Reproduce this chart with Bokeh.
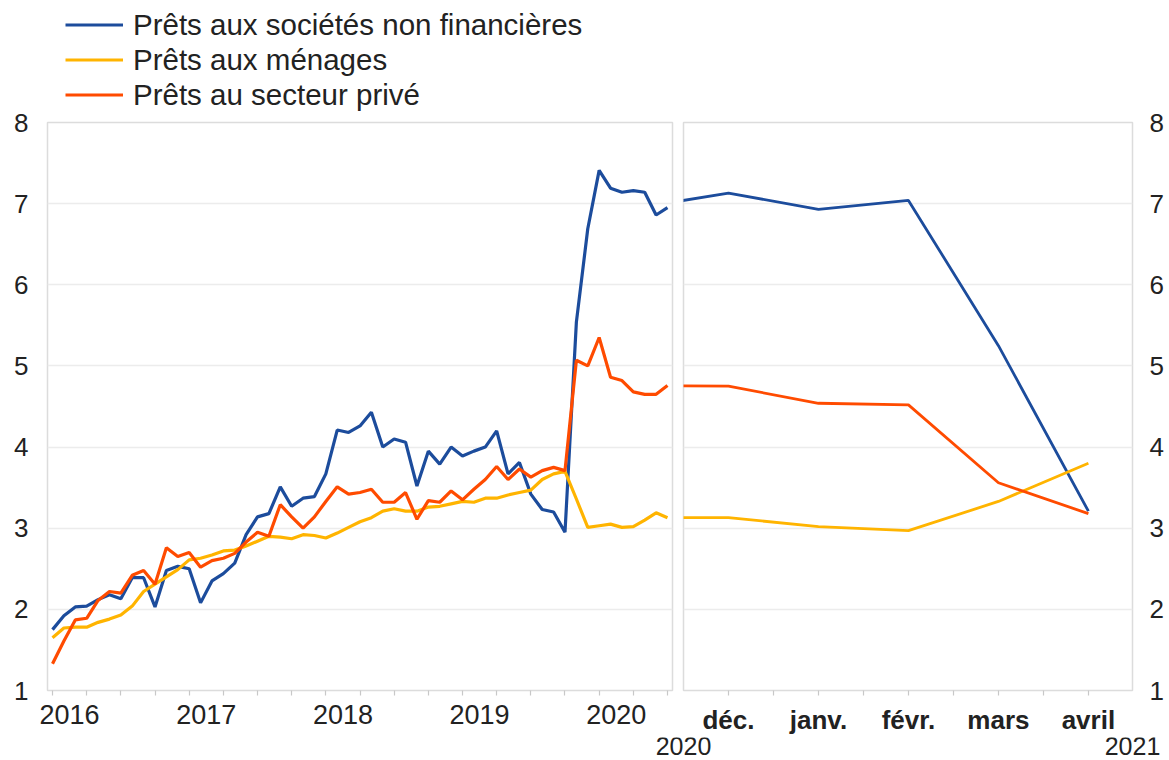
from bokeh.plotting import figure
from bokeh.models import Range1d, FixedTicker, Legend, LegendItem
from bokeh.layouts import column, row
from bokeh.embed import file_html
from bokeh.resources import INLINE
from bokeh.core.properties import value

# ---------------- data ----------------
# left panel: monthly, May 2016 .. Nov 2020
year_labels = ["2016", "2017", "2018", "2019", "2020"]
nfc_left = [1.75, 1.92, 2.03, 2.04, 2.12, 2.18, 2.13, 2.39, 2.39, 2.03,
            2.48, 2.53, 2.50, 2.08, 2.35, 2.44, 2.57, 2.92, 3.14, 3.18,
            3.51, 3.27, 3.37, 3.39, 3.67, 4.21, 4.18, 4.26, 4.43, 4.00,
            4.10, 4.06, 3.52, 3.95, 3.79, 4.00, 3.89, 3.95, 4.00, 4.20,
            3.67, 3.81, 3.42, 3.23, 3.20, 2.95, 5.54, 6.69, 7.41, 7.19,
            7.14, 7.16, 7.14, 6.86, 6.95]
hh_left = [1.65, 1.77, 1.78, 1.78, 1.84, 1.88, 1.93, 2.04, 2.22, 2.31,
           2.40, 2.49, 2.61, 2.63, 2.67, 2.72, 2.73, 2.78, 2.84, 2.90,
           2.89, 2.87, 2.92, 2.91, 2.88, 2.94, 3.01, 3.08, 3.13, 3.21,
           3.24, 3.21, 3.21, 3.26, 3.27, 3.30, 3.33, 3.32, 3.37, 3.37,
           3.41, 3.44, 3.47, 3.60, 3.67, 3.70, 3.36, 3.01, 3.03, 3.05,
           3.01, 3.02, 3.10, 3.19, 3.13]
priv_left = [1.33, 1.61, 1.87, 1.89, 2.11, 2.22, 2.20, 2.42, 2.48, 2.31,
             2.76, 2.65, 2.70, 2.52, 2.60, 2.63, 2.69, 2.83, 2.95, 2.90,
             3.29, 3.14, 3.00, 3.14, 3.33, 3.51, 3.42, 3.44, 3.48, 3.32,
             3.32, 3.44, 3.11, 3.34, 3.32, 3.46, 3.35, 3.48, 3.60, 3.76,
             3.60, 3.73, 3.63, 3.71, 3.75, 3.71, 5.07, 5.00, 5.35, 4.86,
             4.82, 4.68, 4.65, 4.65, 4.76]

# right panel: Nov 2020 .. Apr 2021
right_months = ["nov.", "déc.", "janv.", "févr.", "mars", "avril"]
nfc_right = [6.95, 7.13, 6.93, 7.04, 5.25, 3.21]
hh_right = [3.13, 3.13, 3.02, 2.97, 3.33, 3.80]
priv_right = [4.76, 4.75, 4.54, 4.52, 3.56, 3.18]
outer_years = ["2020", "2021"]

series_names = ["Prêts aux sociétés non financières",
                "Prêts aux ménages",
                "Prêts au secteur privé"]
y_ticks = [1, 2, 3, 4, 5, 6, 7, 8]

# ---------------- styles ----------------
BLUE, YELLOW, RED = "#1c4c9c", "#ffb400", "#ff4b00"
COLORS = [BLUE, YELLOW, RED]
FONT = "Liberation Sans"
TICK_FS = "26px"
TXT = "#222222"
GRID = "#ececec"
FRAME = "#dcdcdc"

W_L, W_R = 677, 492
W_ALL = W_L + W_R
H_TOP, H_MAIN, H_BOT = 112, 625, 23
TOP, BOTTOM = 10, 44

xl = list(range(len(nfc_left)))
xr = list(range(len(right_months)))
left_series = (nfc_left, hh_left, priv_left)

# ---------------- legend strip ----------------
# the series are attached here only to feed the legend; the strip's range
# (0..1) lies below every value, so nothing of them shows
pt = figure(width=W_ALL, height=H_TOP, x_range=Range1d(0, 1), y_range=Range1d(0, 1),
            output_backend="svg", toolbar_location=None,
            x_axis_location=None, y_axis_location=None, min_border=0)
pt.outline_line_color = None
pt.grid.visible = False
leg_renderers = [pt.line(xl, ys, line_color=c, line_width=3.2)
                 for ys, c in zip(left_series, COLORS)]
legend = Legend(items=[LegendItem(label=n, renderers=[r])
                       for n, r in zip(series_names, leg_renderers)],
                location=(65, 0), orientation="vertical",
                label_text_font=FONT, label_text_font_size="29.5px",
                label_text_color=TXT, glyph_width=58, glyph_height=35,
                label_height=35, label_standoff=10, spacing=0, padding=0,
                margin=0, border_line_color=None, background_fill_alpha=0)
pt.add_layout(legend)

# ---------------- left panel ----------------
pl = figure(width=W_L, height=H_MAIN, x_range=Range1d(-0.44, len(xl) - 1 + 0.44),
            y_range=Range1d(1, 8), output_backend="svg", toolbar_location=None,
            min_border_left=47, min_border_right=5, min_border_top=TOP,
            min_border_bottom=BOTTOM)
for ys, c in zip(left_series, COLORS):
    pl.line(xl, ys, line_color=c, line_width=3.2)

year_pos = [1.5 + 12 * k for k in range(len(year_labels))]
pl.xaxis.ticker = FixedTicker(ticks=year_pos, minor_ticks=list(range(0, len(xl), 3)))
pl.xaxis.major_label_overrides = {p: lab for p, lab in zip(year_pos, year_labels)}

# ---------------- right panel ----------------
pr = figure(width=W_R, height=H_MAIN, x_range=Range1d(0.5, 5.49),
            y_range=Range1d(1, 8), output_backend="svg", toolbar_location=None,
            y_axis_location="right",
            min_border_left=6, min_border_right=37, min_border_top=TOP,
            min_border_bottom=BOTTOM)
for ys, c in zip((nfc_right, hh_right, priv_right), COLORS):
    pr.line(xr, ys, line_color=c, line_width=2.8)
mticks = xr[1:]
pr.xaxis.ticker = FixedTicker(ticks=mticks,
                              minor_ticks=[m / 2 for m in range(2, 2 * len(xr) - 1)])
pr.xaxis.major_label_overrides = {m: right_months[m] for m in mticks}
pr.xaxis.major_label_text_font_style = "bold"

for p in (pl, pr):
    p.background_fill_color = "white"
    p.border_fill_color = "white"
    p.outline_line_color = FRAME
    p.outline_line_width = 1.5
    p.xgrid.visible = False
    p.ygrid.grid_line_color = GRID
    p.ygrid.grid_line_width = 1.5
    p.yaxis.ticker = FixedTicker(ticks=y_ticks)
    for ax in p.axis:
        ax.axis_line_color = None
        ax.major_tick_line_color = None
        ax.major_tick_out = 0
        ax.major_tick_in = 0
        ax.minor_tick_in = 0
        ax.major_label_text_font = FONT
        ax.major_label_text_font_size = TICK_FS
        ax.major_label_text_color = TXT
    p.xaxis.minor_tick_line_color = "#c8c8c8"
    p.xaxis.minor_tick_out = 5
    p.xaxis.minor_tick_line_width = 1.2
    p.yaxis.minor_tick_line_color = None
    p.xaxis.major_label_standoff = 9
pl.xaxis.major_label_text_font_size = "27px"
pl.yaxis.major_label_standoff = 19
pr.yaxis.major_label_standoff = 17

# ---------------- bottom strip with the outer year labels ----------------
r0, rend = pr.x_range.start, pr.x_range.end
fr_left = W_L + 6
fr_right = W_L + W_R - 37
scale = (fr_right - fr_left) / (rend - r0)
ps = figure(width=W_ALL, height=H_BOT,
            x_range=Range1d(r0 - fr_left / scale, rend + (W_ALL - fr_right) / scale),
            y_range=Range1d(0, 1), output_backend="svg", toolbar_location=None,
            x_axis_location=None, y_axis_location=None, min_border=0)
ps.outline_line_color = None
ps.grid.visible = False
ps.text(x=[r0, rend], y=[0.62, 0.62], text=outer_years, text_align="center",
        text_baseline="middle", text_font=value(FONT),
        text_font_size="25px", text_color=TXT)

for f in (pt, ps):
    f.background_fill_color = "white"
    f.border_fill_color = "white"

layout = column(pt, row(pl, pr), ps)
open("out.html", "w").write(file_html(layout, INLINE))
